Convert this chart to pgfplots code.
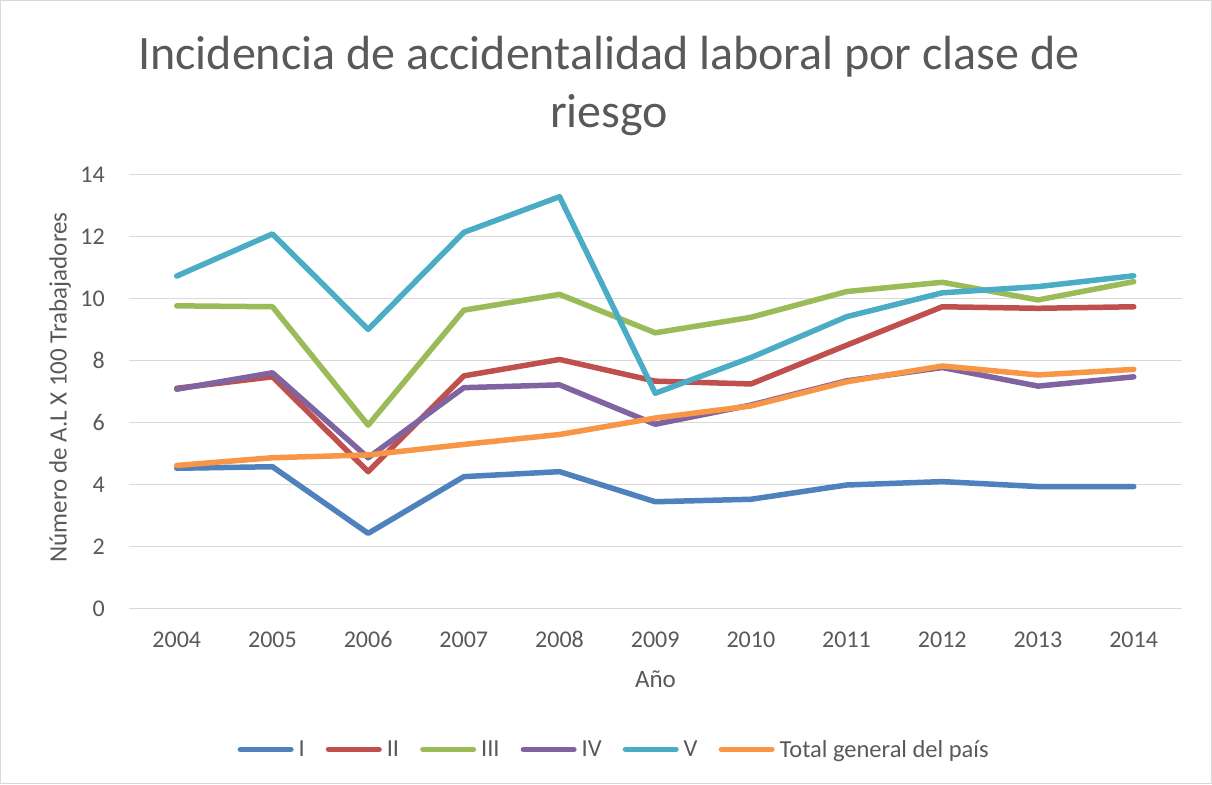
\documentclass[border=0pt]{standalone}
\usepackage{pgfplots}
\pgfplotsset{compat=1.18}
\usepackage{fontspec}
\setmainfont{Carlito}
\definecolor{txt}{HTML}{595959}
\definecolor{grd}{HTML}{D9D9D9}
\definecolor{cI}{HTML}{4F81BD}
\definecolor{cII}{HTML}{C0504D}
\definecolor{cIII}{HTML}{9BBB59}
\definecolor{cIV}{HTML}{8064A2}
\definecolor{cV}{HTML}{4BACC6}
\definecolor{cT}{HTML}{F79646}
\begin{document}
\begin{tikzpicture}[x=1pt,y=1pt]
\draw[grd, line width=1pt] (0.5,0.5) rectangle (1211.5,783.5);
\node[txt, anchor=base, inner sep=0pt, font=\fontsize{48}{58}\selectfont] at (609,714) {Incidencia de accidentalidad laboral por clase de};
\node[txt, anchor=base, inner sep=0pt, font=\fontsize{48}{58}\selectfont] at (609,656) {riesgo};
\node[txt, anchor=base, inner sep=0pt, rotate=90, font=\fontsize{25}{30}\selectfont] at (66.7,396.5) {Número de A.L X 100 Trabajadores};
\node[txt, anchor=base, inner sep=0pt, font=\fontsize{25}{30}\selectfont] at (655.5,96.7) {Año};
\begin{axis}[
  at={(128.9pt,175.3pt)}, anchor=south west,
  scale only axis, width=1052.7pt, height=434pt,
  xmin=2003.5, xmax=2014.5, ymin=0, ymax=14,
  xtick={2004,...,2014}, ytick={0,2,...,14},
  xticklabel style={/pgf/number format/1000 sep={}},
  /pgf/number format/assume math mode=true,
  tick label style={font=\fontsize{24}{28}\selectfont, text=txt, inner sep=0pt},
  xticklabel style={anchor=base, yshift=-38.6pt},
  yticklabel style={anchor=east, xshift=-23.9pt},
  major tick length=0pt,
  axis line style={draw=none},
  ymajorgrids, grid style={grd, line width=1.3pt},
  every axis plot/.append style={line width=5.5pt, line join=round, line cap=round, mark=none},
  legend style={at={(0.46,-0.324)}, anchor=center, draw=none, fill=none,
    legend columns=-1, font=\fontsize{24.5}{28}\selectfont, text=txt,
    nodes={inner xsep=0pt, inner ysep=1pt},
    /tikz/every odd column/.append style={column sep=5pt},
    /tikz/every even column/.append style={column sep=21pt}},
  legend image code/.code={\draw[#1, line cap=round] (0pt,0pt) -- (50.5pt,0pt);},
]
\addplot[cI] coordinates {(2004,4.53)(2005,4.58)(2006,2.43)(2007,4.26)(2008,4.42)(2009,3.45)(2010,3.53)(2011,3.99)(2012,4.10)(2013,3.94)(2014,3.94)};
\addlegendentry{I}
\addplot[cII] coordinates {(2004,7.11)(2005,7.48)(2006,4.42)(2007,7.51)(2008,8.04)(2009,7.34)(2010,7.25)(2011,8.50)(2012,9.74)(2013,9.69)(2014,9.74)};
\addlegendentry{II}
\addplot[cIII] coordinates {(2004,9.77)(2005,9.74)(2006,5.92)(2007,9.63)(2008,10.14)(2009,8.90)(2010,9.40)(2011,10.23)(2012,10.53)(2013,9.96)(2014,10.55)};
\addlegendentry{III}
\addplot[cIV] coordinates {(2004,7.08)(2005,7.61)(2006,4.87)(2007,7.13)(2008,7.22)(2009,5.95)(2010,6.57)(2011,7.35)(2012,7.78)(2013,7.18)(2014,7.48)};
\addlegendentry{IV}
\addplot[cV] coordinates {(2004,10.73)(2005,12.09)(2006,9.01)(2007,12.14)(2008,13.29)(2009,6.95)(2010,8.10)(2011,9.42)(2012,10.19)(2013,10.39)(2014,10.74)};
\addlegendentry{V}
\addplot[cT] coordinates {(2004,4.62)(2005,4.87)(2006,4.96)(2007,5.30)(2008,5.62)(2009,6.15)(2010,6.54)(2011,7.32)(2012,7.83)(2013,7.54)(2014,7.72)};
\addlegendentry{Total general del país}
\end{axis}
\end{tikzpicture}
\end{document}
